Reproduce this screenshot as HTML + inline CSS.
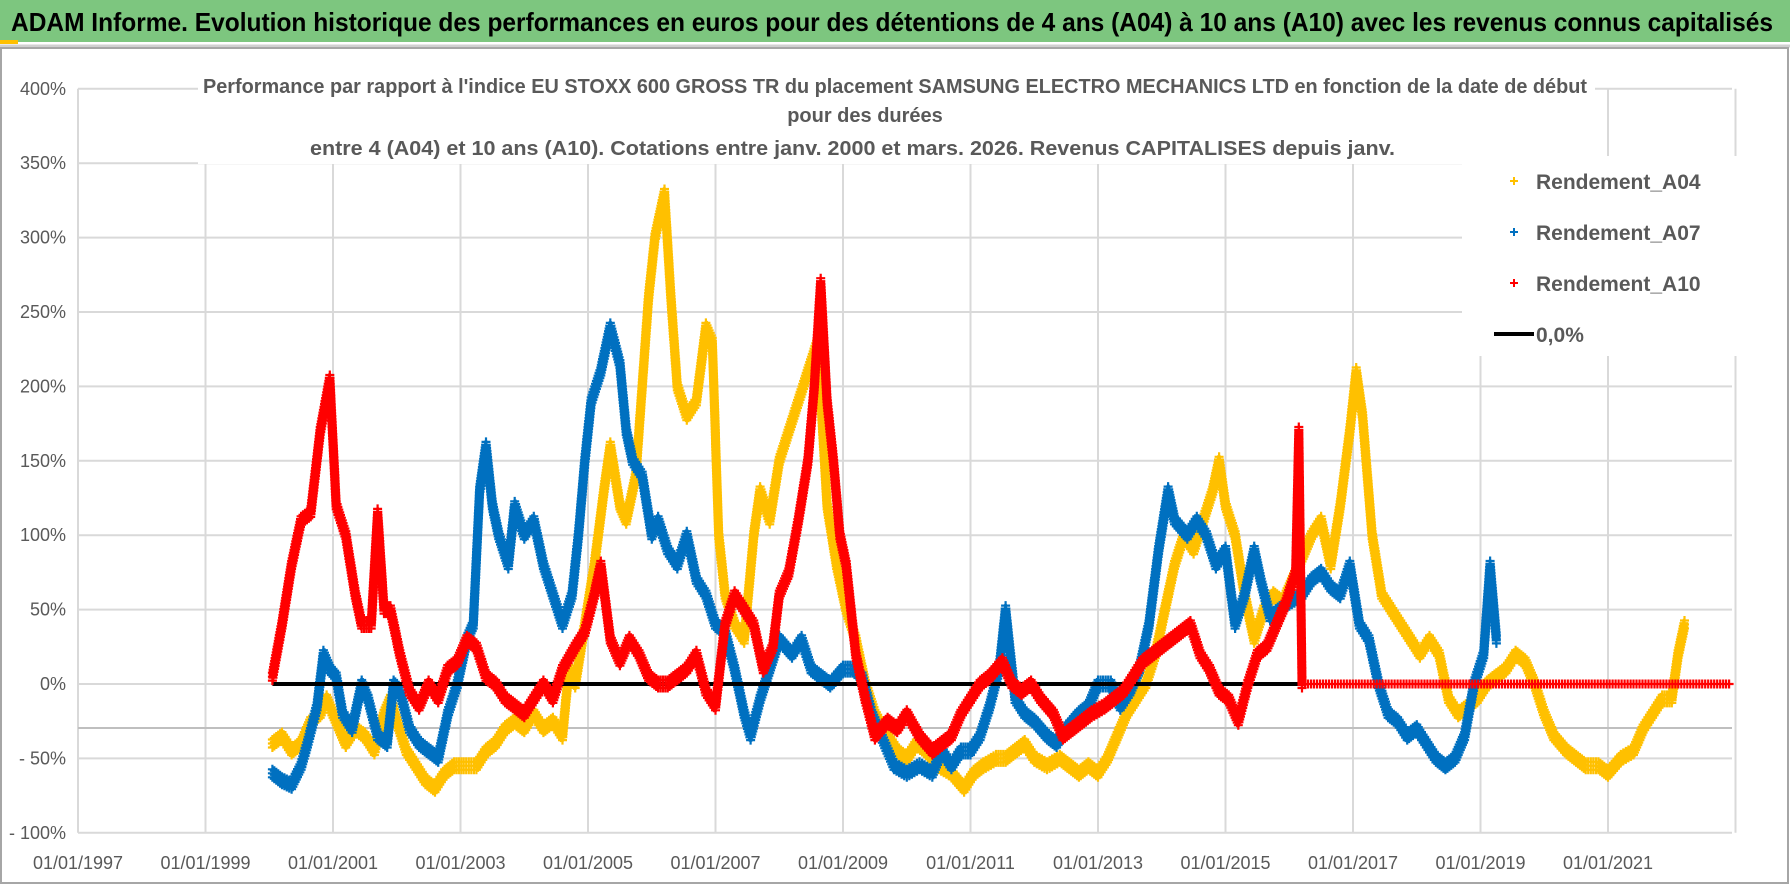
<!DOCTYPE html>
<html><head><meta charset="utf-8"><style>
html,body{margin:0;padding:0;background:#fff;}
svg{display:block;font-family:"Liberation Sans",sans-serif;}
</style></head><body>
<svg id="chart" width="1790" height="886" viewBox="0 0 1790 886">
<rect x="0" y="0" width="1790" height="886" fill="#fff"/>
<rect x="0" y="0" width="1790" height="42" fill="#7dc67f"/>
<rect x="0" y="40" width="18" height="4" fill="#ffc000"/>
<line x1="0" y1="46" x2="1790" y2="46" stroke="#d0d0d0" stroke-width="3"/>
<text x="11" y="31" font-size="26" font-weight="bold" fill="#000" textLength="1762" lengthAdjust="spacingAndGlyphs">ADAM Informe. Evolution historique des performances en euros pour des détentions de 4 ans (A04) à 10 ans (A10) avec les revenus connus capitalisés</text>
<rect x="1" y="48" width="1787" height="835" fill="none" stroke="#a6a6a6" stroke-width="2"/>
<g id="grid"></g>
<g id="yaxis"></g>
<g id="xaxis"></g>
<line x1="78" y1="728" x2="1732" y2="728" stroke="#bfbfbf" stroke-width="2"/>
<g id="series"></g>
<rect x="198" y="68" width="1397" height="96" fill="#fff"/>
<g font-weight="bold" fill="#595959" font-size="20">
<text x="203" y="93" textLength="1384" lengthAdjust="spacingAndGlyphs">Performance par rapport à l'indice EU STOXX 600 GROSS TR  du placement SAMSUNG ELECTRO MECHANICS LTD en fonction de la date de début</text>
<text x="865" y="122" text-anchor="middle">pour des durées</text>
<text x="310" y="155" textLength="1085" lengthAdjust="spacingAndGlyphs">entre 4 (A04) et 10 ans (A10). Cotations entre janv. 2000 et mars. 2026. Revenus CAPITALISES depuis janv.</text>
</g>
<rect x="1462" y="156" width="276" height="200" fill="#fff"/>
<g font-weight="bold" fill="#595959" font-size="21">
<g><path d="M1510 181h8M1514 177v8" stroke="#ffc000" stroke-width="2"/><text x="1536" y="189">Rendement_A04</text></g>
<g><path d="M1510 232h8M1514 228v8" stroke="#0070c0" stroke-width="2"/><text x="1536" y="240">Rendement_A07</text></g>
<g><path d="M1510 283h8M1514 279v8" stroke="#ff0000" stroke-width="2"/><text x="1536" y="291">Rendement_A10</text></g>
<g><line x1="1494" y1="334" x2="1534" y2="334" stroke="#000" stroke-width="4"/><text x="1536" y="342">0,0%</text></g>
</g>
</svg>
<script>
const yTicks=[400,350,300,250,200,150,100,50,0,-50,-100];
const yTickLabels=["400%","350%","300%","250%","200%","150%","100%","50%","0%","- 50%","- 100%"];
const xTickYears=[1997,1999,2001,2003,2005,2007,2009,2011,2013,2015,2017,2019,2021];
const xTickLabels=["01/01/1997","01/01/1999","01/01/2001","01/01/2003","01/01/2005","01/01/2007","01/01/2009","01/01/2011","01/01/2013","01/01/2015","01/01/2017","01/01/2019","01/01/2021"];
const zeroLine=[2000.05,2016.2];
const a10Flat=[2016.2,2022.9];
const a04Years=[2000.05,2000.2,2000.35,2000.5,2000.65,2000.8,2000.9,2001.05,2001.2,2001.35,2001.5,2001.65,2001.8,2001.9,2002.0,2002.15,2002.3,2002.45,2002.6,2002.75,2002.9,2003.05,2003.25,2003.4,2003.55,2003.7,2003.85,2004.0,2004.15,2004.3,2004.45,2004.6,2004.7,2004.8,2004.95,2005.1,2005.25,2005.35,2005.5,2005.6,2005.75,2005.85,2005.95,2006.05,2006.2,2006.3,2006.4,2006.55,2006.7,2006.85,2006.95,2007.05,2007.15,2007.3,2007.45,2007.6,2007.7,2007.85,2008.0,2008.15,2008.3,2008.45,2008.6,2008.75,2008.9,2009.05,2009.2,2009.35,2009.5,2009.7,2009.85,2010.0,2010.15,2010.3,2010.5,2010.7,2010.9,2011.05,2011.2,2011.4,2011.55,2011.7,2011.85,2012.0,2012.2,2012.4,2012.55,2012.7,2012.85,2013.0,2013.15,2013.3,2013.45,2013.6,2013.75,2013.9,2014.05,2014.2,2014.35,2014.5,2014.65,2014.8,2014.9,2015.0,2015.15,2015.3,2015.45,2015.6,2015.75,2015.9,2016.05,2016.2,2016.35,2016.5,2016.65,2016.8,2016.95,2017.05,2017.15,2017.3,2017.45,2017.6,2017.75,2017.9,2018.05,2018.2,2018.35,2018.5,2018.65,2018.8,2018.95,2019.1,2019.25,2019.4,2019.55,2019.7,2019.85,2020.0,2020.15,2020.35,2020.5,2020.65,2020.85,2021.0,2021.2,2021.4,2021.55,2021.7,2021.85,2022.0,2022.1,2022.2];
const a04Values=[-40,-35,-45,-40,-25,-20,-10,-25,-40,-30,-35,-45,-20,-10,-25,-45,-55,-65,-70,-60,-55,-55,-55,-45,-40,-30,-25,-30,-20,-30,-25,-35,10,0,40,80,130,160,120,110,140,200,260,300,330,260,200,180,190,240,230,100,60,40,30,100,130,110,150,170,190,210,230,120,80,50,30,0,-20,-35,-45,-50,-40,-45,-55,-60,-70,-60,-55,-50,-50,-45,-40,-50,-55,-50,-55,-60,-55,-60,-50,-35,-20,-10,0,20,50,80,100,90,110,130,150,120,100,60,30,50,60,55,70,85,100,110,80,120,170,210,180,100,60,50,40,30,20,30,20,-10,-20,-15,-10,0,5,10,20,15,0,-20,-35,-45,-50,-55,-55,-60,-50,-45,-30,-20,-10,-10,20,40];
const a07Years=[2000.05,2000.2,2000.35,2000.5,2000.6,2000.75,2000.85,2000.95,2001.05,2001.15,2001.3,2001.45,2001.55,2001.7,2001.85,2001.95,2002.05,2002.2,2002.35,2002.5,2002.65,2002.8,2002.95,2003.1,2003.2,2003.3,2003.4,2003.5,2003.6,2003.75,2003.85,2004.0,2004.15,2004.3,2004.45,2004.6,2004.75,2004.85,2004.95,2005.05,2005.2,2005.35,2005.5,2005.6,2005.7,2005.85,2006.0,2006.1,2006.25,2006.4,2006.55,2006.7,2006.85,2007.0,2007.15,2007.3,2007.45,2007.55,2007.7,2007.85,2008.0,2008.2,2008.35,2008.5,2008.65,2008.8,2009.0,2009.15,2009.3,2009.45,2009.6,2009.8,2010.0,2010.2,2010.4,2010.55,2010.7,2010.85,2011.0,2011.15,2011.3,2011.45,2011.55,2011.7,2011.85,2012.0,2012.2,2012.35,2012.5,2012.7,2012.85,2013.0,2013.2,2013.35,2013.5,2013.65,2013.8,2013.95,2014.1,2014.2,2014.4,2014.55,2014.7,2014.85,2015.0,2015.15,2015.3,2015.45,2015.55,2015.7,2015.85,2016.0,2016.2,2016.35,2016.5,2016.65,2016.8,2016.95,2017.1,2017.25,2017.4,2017.55,2017.7,2017.85,2018.0,2018.15,2018.3,2018.45,2018.6,2018.75,2018.9,2019.05,2019.15,2019.25];
const a07Values=[-60,-65,-68,-55,-40,-15,20,10,5,-20,-30,0,-10,-35,-40,0,-5,-30,-40,-45,-50,-20,0,30,40,130,160,120,100,80,120,100,110,80,60,40,60,100,150,190,210,240,215,170,150,140,100,110,90,80,100,70,60,40,35,10,-20,-35,-10,10,30,20,30,10,5,0,10,10,5,-20,-35,-55,-60,-55,-60,-45,-55,-45,-45,-35,-15,10,50,-10,-20,-25,-35,-40,-30,-20,-15,0,0,-15,-5,10,40,90,130,110,100,110,100,80,90,40,60,90,70,45,50,55,60,70,75,65,60,80,40,30,0,-20,-25,-35,-30,-40,-50,-55,-50,-35,0,20,80,30];
const a10Years=[2000.05,2000.2,2000.35,2000.5,2000.65,2000.8,2000.95,2001.05,2001.2,2001.35,2001.45,2001.6,2001.7,2001.8,2001.9,2002.05,2002.2,2002.35,2002.5,2002.65,2002.8,2002.95,2003.1,2003.25,2003.4,2003.55,2003.7,2003.85,2004.0,2004.15,2004.3,2004.45,2004.6,2004.8,2004.95,2005.1,2005.2,2005.35,2005.5,2005.65,2005.8,2005.95,2006.1,2006.25,2006.4,2006.55,2006.7,2006.85,2007.0,2007.15,2007.3,2007.45,2007.6,2007.75,2007.9,2008.0,2008.15,2008.3,2008.45,2008.55,2008.65,2008.75,2008.85,2008.95,2009.05,2009.2,2009.35,2009.5,2009.7,2009.85,2010.0,2010.2,2010.4,2010.55,2010.7,2010.85,2011.0,2011.15,2011.3,2011.5,2011.65,2011.8,2011.95,2012.1,2012.3,2012.45,2012.6,2012.75,2012.9,2013.1,2013.25,2013.4,2013.55,2013.7,2013.85,2014.0,2014.15,2014.3,2014.45,2014.6,2014.75,2014.9,2015.05,2015.2,2015.35,2015.5,2015.65,2015.8,2015.95,2016.1,2016.15,2016.2];
const a10Values=[5,40,80,110,115,170,205,120,100,60,40,40,115,50,50,20,-5,-15,0,-10,10,15,30,25,5,0,-10,-15,-20,-10,0,-10,10,25,35,60,80,30,15,30,20,5,0,0,5,10,20,-5,-15,40,60,50,40,10,25,60,75,110,150,200,270,190,150,100,80,20,-10,-35,-25,-30,-20,-35,-45,-40,-35,-20,-10,0,5,15,0,-5,0,-10,-20,-35,-30,-25,-20,-15,-10,-5,5,15,20,25,30,35,40,20,10,-5,-10,-25,0,20,25,40,55,75,170,0];

const NS="http://www.w3.org/2000/svg";
const X0=78,PX_PER_YEAR=63.75,Y0=684,PX_PER_PCT=74.4/50;
function xs(yr){return X0+(yr-1997)*PX_PER_YEAR;}
function ys(v){return Y0-v*PX_PER_PCT;}
function mk(tag,attrs,parent){const e=document.createElementNS(NS,tag);for(const k in attrs)e.setAttribute(k,attrs[k]);parent.appendChild(e);return e;}

const grid=document.getElementById('grid');
yTicks.forEach(function(t){
  const l=mk('line',{x1:X0,x2:1732,y1:ys(t),y2:ys(t),stroke:'#d9d9d9','stroke-width':2},grid);
  
  
});
xTickYears.concat([2023]).forEach(function(yr){
  const l=mk('line',{x1:xs(yr),x2:xs(yr),y1:ys(400),y2:ys(-100),stroke:'#d9d9d9','stroke-width':2},grid);
  
  
});
const yax=document.getElementById('yaxis');
yTicks.forEach(function(t,i){
  const tx=mk('text',{x:66,y:ys(t)+6,'text-anchor':'end','font-size':18,fill:'#595959'},yax);
  tx.textContent=yTickLabels[i];
  
  
});
const xax=document.getElementById('xaxis');
xTickYears.forEach(function(yr,i){
  const tx=mk('text',{x:xs(yr),y:869,'text-anchor':'middle','font-size':18,fill:'#595959'},xax);
  tx.textContent=xTickLabels[i];
  
  
});

const series=document.getElementById('series');
const SPREAD=[-4,0,4];
function plus(x,y){return 'M'+(x-4.5).toFixed(1)+' '+y.toFixed(1)+'h9M'+x.toFixed(1)+' '+(y-4.5).toFixed(1)+'v9';}
function cloud(x,y){let s='';SPREAD.forEach(function(o){s+=plus(x,y+o);});return s;}
function drawSeries(years,vals,color,name,spread){
  let d='';
  const f=spread?cloud:plus;
  for(let i=0;i<years.length;i++){
    const x1=xs(years[i]),y1=ys(vals[i]);
    d+=f(x1,y1);
    if(i<years.length-1){
      const x2=xs(years[i+1]),y2=ys(vals[i+1]);
      const n=Math.ceil(Math.hypot(x2-x1,y2-y1)/3);
      for(let k=1;k<n;k++){d+=f(x1+(x2-x1)*k/n,y1+(y2-y1)*k/n);}
    }
  }
  const p=mk('path',{d:d,stroke:color,'stroke-width':2.2,fill:'none'},series);
  
  
}
drawSeries(a04Years,a04Values,'#ffc000','series-a04',true);
drawSeries(a07Years,a07Values,'#0070c0','series-a07',true);
const zl=mk('line',{x1:xs(zeroLine[0]),x2:xs(zeroLine[1]),y1:ys(0),y2:ys(0),stroke:'#000','stroke-width':4},series);


drawSeries(a10Years,a10Values,'#ff0000','series-a10',true);
drawSeries(a10Flat,[0,0],'#ff0000','series-a10-flat',false);
</script>
</body></html>
